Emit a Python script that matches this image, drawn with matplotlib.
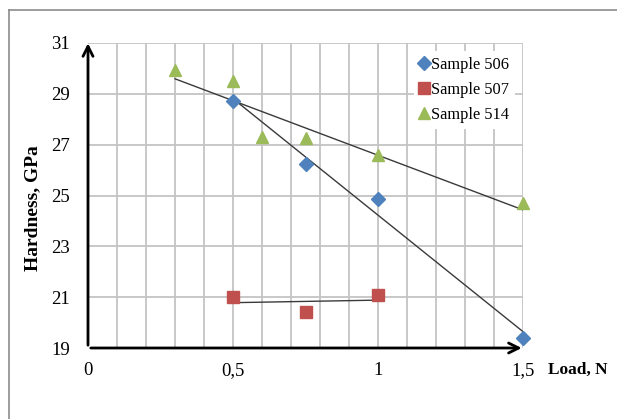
import numpy as np
import matplotlib.pyplot as plt
from matplotlib.lines import Line2D

plt.rcParams['font.family'] = ['Liberation Serif', 'DejaVu Serif']

# data
load_506 = [0.5, 0.75, 1.0, 1.5]
hard_506 = [28.7, 26.25, 24.85, 19.4]

load_507 = [0.5, 0.75, 1.0]
hard_507 = [21.0, 20.4, 21.1]

load_514 = [0.3, 0.5, 0.6, 0.75, 1.0, 1.5]
hard_514 = [29.95, 29.5, 27.3, 27.25, 26.6, 24.7]

x_ticks = [0, 0.5, 1.0, 1.5]
x_tick_labels = ['0', '0,5', '1', '1,5']
y_ticks = [19, 21, 23, 25, 27, 29, 31]

fig = plt.figure(figsize=(6.17, 4.19), dpi=100)
ax = fig.add_axes([88 / 617, 71 / 419, 435 / 617, 305 / 419])

# outer chart border (only top/left visible in the reference)
fig.add_artist(Line2D([9 / 617, 9 / 617], [0, 1 - 10 / 419], color='#8c8c8c', lw=1.2))
fig.add_artist(Line2D([9 / 617, 1], [1 - 10 / 419, 1 - 10 / 419], color='#8c8c8c', lw=1.2))

ax.set_xlim(0, 1.5)
ax.set_ylim(19, 31)
for s in ax.spines.values():
    s.set_visible(False)

# grid
for xv in np.arange(0.1, 1.51, 0.1):
    ax.axvline(xv, color='#c4c4c4', lw=1.3, zorder=0)
for yv in y_ticks[1:]:
    ax.axhline(yv, color='#c4c4c4', lw=1.3, zorder=0)

series = [
    ('Sample 506', load_506, hard_506, 'D', '#4F81BD', 7),
    ('Sample 507', load_507, hard_507, 's', '#C0504D', 8.5),
    ('Sample 514', load_514, hard_514, '^', '#9BBB59', 9),
]
for name, xs, ys, mk, col, ms in series:
    k, b = np.polyfit(xs, ys, 1)
    xx = np.array([min(xs), max(xs)])
    ax.plot(xx, k * xx + b, color='#3a3a3a', lw=1.0, zorder=2)
for name, xs, ys, mk, col, ms in series:
    ax.plot(xs, ys, linestyle='none', marker=mk, color=col, ms=ms, label=name,
            clip_on=False, zorder=3)

# axis arrows
ax.annotate('', xy=(0, 31.1), xytext=(0, 19), xycoords='data',
            arrowprops=dict(arrowstyle='->', lw=2, color='black', mutation_scale=18),
            annotation_clip=False, zorder=4)
ax.annotate('', xy=(1.505, 19), xytext=(0, 19), xycoords='data',
            arrowprops=dict(arrowstyle='->', lw=2, color='black', mutation_scale=18),
            annotation_clip=False, zorder=4)

ax.set_xticks(x_ticks)
ax.set_xticklabels(x_tick_labels)
ax.set_yticks(y_ticks)
ax.tick_params(axis='both', length=0, labelsize=13.5)
ax.tick_params(axis='y', pad=13)
ax.tick_params(axis='x', pad=10)

ax.set_ylabel('Hardness, GPa', fontsize=14, fontweight='bold')
ax.yaxis.set_label_coords(-0.108, 0.46)
ax.text(1.585, 18.45, 'Load, N', fontsize=12.5, fontweight='bold',
        ha='left', va='top', transform=ax.transData)

leg = ax.legend(loc='upper left', bbox_to_anchor=(0.73, 1.0), frameon=True,
                fontsize=11.8, handletextpad=0.1, handlelength=0.6,
                borderpad=0.35, labelspacing=0.55, markerscale=1.0)
leg.get_frame().set_edgecolor('none')
leg.get_frame().set_facecolor('white')
leg.get_frame().set_alpha(1)
leg.get_frame().set_boxstyle('square', pad=0)

fig.savefig('out.png', dpi=100)
